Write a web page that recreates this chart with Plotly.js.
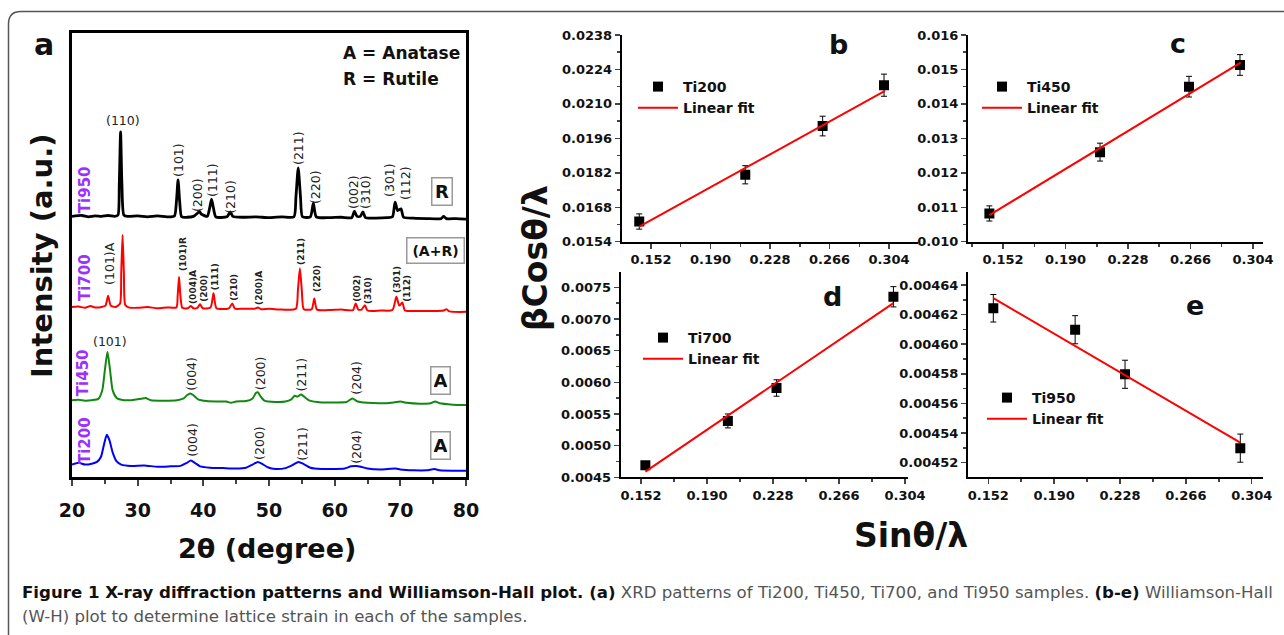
<!DOCTYPE html>
<html><head><meta charset="utf-8">
<script src="https://cdn.plot.ly/plotly-3.0.1.min.js"></script>
<style>html,body{margin:0;padding:0;background:#fff}#chart{width:1284px;height:635px}</style>
</head><body><div id="chart"></div>
<script>
// ---------- Panel (a): XRD patterns (2θ in degrees, intensity in a.u., stacked offsets as drawn) ----------
const ti950_tt = [20,21.5,22.5,23.5,24.5,25.5,26.5,27.0,27.2,27.4,27.6,27.9,28.5,30,31.5,33,34.5,35.6,35.9,36.15,36.4,36.7,37.5,38.5,39.1,39.4,39.7,40.6,40.95,41.25,41.55,41.9,43.6,44.1,44.5,46,48,50,52,53.8,54.1,54.45,54.8,55.1,56.3,56.75,57.2,59,61,62.6,63.0,63.4,63.9,64.3,64.7,66,68,68.8,69.2,69.6,70.1,70.5,72,74,76.2,76.6,77,78.5,80];
const ti950_int = [58.7,58.9,58.6,58.8,58.7,58.9,58.7,59.0,66,77.7,66,59.0,58.7,58.8,58.6,58.8,58.6,58.8,62,66.9,62,58.6,58.5,58.7,59.4,59.8,59.2,58.7,60.5,62.6,60.5,58.6,58.6,59.7,58.7,58.5,58.6,58.4,58.6,58.6,63,69.6,63,58.6,58.6,61.7,58.6,58.4,58.5,58.4,59.9,58.7,58.7,59.7,58.4,58.3,58.4,58.6,61.9,60.0,60.4,58.5,58.3,58.2,58.2,58.7,58.2,58.2,58.1];

const ti700_tt = [20,21,22,22.8,23.5,24.5,25.1,25.5,25.9,26.6,27.3,27.5,27.7,27.9,28.1,28.6,30,31.5,33,34.5,35.9,36.1,36.3,36.5,36.8,37.6,38.1,38.5,39.1,39.5,39.9,41.1,41.55,42.0,43.9,44.4,44.8,46,47.8,48.3,48.8,50,52,54.1,54.4,54.7,55.0,55.3,56.5,56.9,57.3,59,61,62.8,63.2,63.6,64.1,64.6,65.0,67,68.8,69.4,69.85,70.3,70.7,72,74,75.5,76.6,77,77.5,80];
const ti700_int = [38.3,38.4,38.1,38.5,38.2,38.3,38.6,40.8,38.6,38.3,39,46,54.5,46,38.8,38.2,38.1,38.3,38.0,38.2,38.2,41,45.1,41,38.1,38.0,38.5,38.0,38.1,38.9,38.0,38.2,41.4,38.0,38.0,39.1,37.9,37.9,37.9,38.2,37.8,37.9,37.7,37.9,42,47.0,42,37.8,37.8,40.2,37.7,37.6,37.7,37.6,39.1,37.7,37.7,38.7,37.5,37.5,37.6,40.6,38.6,39.3,37.5,37.4,37.4,37.4,37.5,37.8,37.3,37.2];

const ti450_tt = [20,21,22,23,24,24.6,25.0,25.4,25.8,26.2,26.8,27.5,29,30.5,31.2,32,34,36,37.0,37.5,38.0,38.5,39.2,40.5,42,43.5,44.2,45,46.5,47.5,48.0,48.3,48.7,49.3,51,52.5,53.4,53.9,54.3,54.9,55.5,56.2,58,60,61.8,62.7,63.5,65,67,69,70,71,73,74.6,75.3,76,78,80];
const ti450_int = [17.3,17.4,17.2,17.3,17.6,19.5,24,28.2,24,19.5,17.8,17.4,17.3,17.6,17.8,17.3,17.2,17.3,17.7,18.4,18.8,18.4,17.5,17.1,17.0,17.0,16.7,17.0,17.1,17.7,18.9,19.1,18.2,17.2,16.9,17.0,17.5,18.3,18.1,18.6,17.9,17.2,16.8,16.8,16.9,17.7,17.0,16.7,16.6,16.8,17.0,16.7,16.5,16.6,17.0,16.6,16.3,16.2];

const ti200_tt = [20,21,22,23,23.8,24.4,24.9,25.3,25.7,26.2,26.8,27.5,29,31,33,35,36.5,37.5,38.1,38.7,39.5,41,43,45,46.5,47.5,48.3,48.9,49.8,51,52.5,53.6,54.5,55.3,56.3,58,60,61.5,62.5,63.3,64,65,67,69.3,70,72,74,75.2,76,78,80];
const ti200_int = [2.8,3.2,2.8,3.0,3.4,4.5,7.5,9.5,8.3,5.5,3.5,2.8,2.5,2.6,2.3,2.4,2.5,3.2,3.7,3.2,2.4,2.1,2.0,1.9,2.1,2.8,3.4,3.0,2.2,1.8,2.0,2.7,3.4,2.9,2.1,1.8,1.8,1.9,2.4,2.5,2.3,1.9,1.7,1.9,1.7,1.5,1.5,1.8,1.5,1.4,1.4];

// ---------- Panels (b)-(e): Williamson-Hall data ----------
const wh_ti200_x = [0.1445, 0.2122, 0.2616, 0.3008];
const wh_ti200_y = [0.01622, 0.01812, 0.02010, 0.02176];
const wh_ti200_err = [0.00031, 0.00037, 0.00040, 0.00045];
const fit_ti200_x = [0.1445, 0.3014];
const fit_ti200_y = [0.01601, 0.02153];

const wh_ti450_x = [0.1437, 0.2110, 0.2651, 0.2961];
const wh_ti450_y = [0.01082, 0.01260, 0.01450, 0.01513];
const wh_ti450_err = [0.00022, 0.00026, 0.00030, 0.00030];
const fit_ti450_x = [0.1437, 0.2965];
const fit_ti450_y = [0.01077, 0.01520];

const wh_ti700_x = [0.1545, 0.2020, 0.2300, 0.2973];
const wh_ti700_y = [0.00469, 0.00539, 0.00591, 0.00735];
const wh_ti700_err = [0.00005, 0.00011, 0.00013, 0.00016];
const fit_ti700_x = [0.1545, 0.2973];
const fit_ti700_y = [0.00459, 0.00725];

const wh_ti950_x = [0.1549, 0.2021, 0.2309, 0.2974];
const wh_ti950_y = [0.0046243, 0.0046098, 0.0045797, 0.0045298];
const wh_ti950_err = [0.0000093, 0.0000095, 0.0000095, 0.0000095];
const fit_ti950_x = [0.1549, 0.2974];
const fit_ti950_y = [0.0046311, 0.0045336];

// ---------- layout helpers ----------
const W = 1284, H = 635;
const px = v => v / W;
const py = v => 1 - v / H;
const F = '"DejaVu Sans", Verdana, sans-serif';
const PURPLE = '#9b30ff';

const xrd = (x, y, color, w) => ({x, y, type:'scatter', mode:'lines', xaxis:'x', yaxis:'y',
  line:{color, width:w, shape:'spline', smoothing:0.6}, showlegend:false, hoverinfo:'skip'});

const whPts = (x, y, err, name, ax, ay, leg) => ({x, y, type:'scatter', mode:'markers', name,
  xaxis:ax, yaxis:ay, legend:leg,
  marker:{symbol:'square', size:10, color:'#000'},
  error_y:{type:'data', array:err, visible:true, color:'#000', thickness:1, width:3}});
const whFit = (x, y, ax, ay, leg) => ({x, y, type:'scatter', mode:'lines', name:'Linear fit',
  xaxis:ax, yaxis:ay, legend:leg, line:{color:'#ff0000', width:2}});

const data = [
  xrd(ti200_tt, ti200_int, '#0000ff', 2),
  xrd(ti450_tt, ti450_int, '#118811', 2),
  xrd(ti700_tt, ti700_int, '#ff0000', 2),
  xrd(ti950_tt, ti950_int, '#000000', 2.8),
  whPts(wh_ti200_x, wh_ti200_y, wh_ti200_err, 'Ti200', 'x2', 'y2', 'legend'),
  whFit(fit_ti200_x, fit_ti200_y, 'x2', 'y2', 'legend'),
  whPts(wh_ti450_x, wh_ti450_y, wh_ti450_err, 'Ti450', 'x3', 'y3', 'legend2'),
  whFit(fit_ti450_x, fit_ti450_y, 'x3', 'y3', 'legend2'),
  whPts(wh_ti700_x, wh_ti700_y, wh_ti700_err, 'Ti700', 'x4', 'y4', 'legend3'),
  whFit(fit_ti700_x, fit_ti700_y, 'x4', 'y4', 'legend3'),
  whPts(wh_ti950_x, wh_ti950_y, wh_ti950_err, 'Ti950', 'x5', 'y5', 'legend4'),
  whFit(fit_ti950_x, fit_ti950_y, 'x5', 'y5', 'legend4')
];

const tickF = {family:F, size:13, color:'#111', weight:'bold'};
function whX(dom, range, anchor){
  return {domain:dom, range, anchor, tick0:0.152, dtick:0.038, tickformat:'.3f',
    showline:true, linewidth:2, linecolor:'#000', ticks:'outside', ticklen:5, tickwidth:1.5,
    showgrid:false, zeroline:false, tickfont:tickF,
    minor:{tick0:0.152, dtick:0.019, ticks:'outside', ticklen:3, tickwidth:1.5, showgrid:false}};
}
function whY(dom, range, anchor, t0, dt, fmt){
  return {domain:dom, range, anchor, tick0:t0, dtick:dt, tickformat:fmt,
    showline:true, linewidth:2, linecolor:'#000', ticks:'outside', ticklen:5, tickwidth:1.5,
    showgrid:false, zeroline:false, tickfont:tickF,
    minor:{tick0:t0, dtick:dt/2, ticks:'outside', ticklen:3, tickwidth:1.5, showgrid:false}};
}

const domTop = [py(241.7), py(35)];
const domBot = [py(477.3), py(271.7)];

function legendAt(x, y){
  return {x:px(x), y:py(y), xanchor:'left', yanchor:'top', bgcolor:'rgba(0,0,0,0)',
    borderwidth:0, font:{family:F, size:14, color:'#111', weight:'bold'}, tracegroupgap:0, itemwidth:40};
}

// text labels in panel (a): [text, 2θ, a.u., rotated?]
const labels950 = [['(110)',27.72,80.4,false],['(101)',36.29,71.4,true],['(200)',39.03,63.5,true],['(111)',41.47,66.9,true],
  ['(210)',44.21,63.1,true],['(211)',54.41,74.1,true],['(220)',57.0,65.3,true],['(002)',62.94,64.2,true],
  ['(310)',64.77,64.2,true],['(301)',68.42,66.9,true],['(112)',70.71,66.2,true]];
const labels700 = [['(101)R',36.9,50.2],['(004)A',38.43,42.8],['(200)',40.1,42.6],['(111)',41.78,45.0],
  ['(210)',44.67,42.6],['(200)A',48.48,42.6],['(211)',54.87,50.9],['(220)',57.31,44.6],['(002)',63.4,42.6],
  ['(310)',65.07,42.1],['(301)',69.49,44.6],['(112)',71.01,42.6]];
const labels450 = [['(101)',25.79,30.5,false],['(004)',38.23,23.2,true],['(200)',48.64,23.4,true],['(211)',54.98,23.0,true],['(204)',63.35,22.3,true]];
const labels200 = [['(004)',38.23,8.3,true],['(200)',48.64,7.7,true],['(211)',54.98,7.4,true],['(204)',63.4,6.8,true]];

const ann = [];
const lab = (t, x, y, rot, size, bold) => ann.push({text: bold ? '<b>'+t+'</b>' : t, x, y, xref:'x', yref:'y',
  showarrow:false, textangle: rot ? -90 : 0, font:{family:F, size, color:'#222'}, xanchor:'center', yanchor:'middle'});
labels950.forEach(l => lab(l[0], l[1], l[2], l[3], 12.5, false));
lab('(101)A', 25.79, 48.0, true, 12.5, false);
labels700.forEach(l => lab(l[0], l[1], l[2], true, 9, true));
labels450.forEach(l => lab(l[0], l[1], l[2], l[3], 12.5, false));
labels200.forEach(l => lab(l[0], l[1], l[2], l[3], 12.5, false));

const boxLab = (t, x, y, w, h, size) => ann.push({text:'<b>'+t+'</b>', x, y, xref:'x', yref:'y', showarrow:false,
  font:{family:F, size, color:'#111'}, bordercolor:'#999', borderwidth:1.5, borderpad:2, bgcolor:'#fff',
  width:w, height:h, xanchor:'center', yanchor:'middle'});
boxLab('R', 76.3, 64.2, 15, 22, 18);
boxLab('(A+R)', 75.43, 51.1, 52, 20, 14);
boxLab('A', 76.19, 21.8, 14, 22, 18);
boxLab('A', 76.19, 7.0, 14, 22, 18);

const sampleLab = (t, x, y) => ann.push({text:'<b>'+t+'</b>', x, y, xref:'x', yref:'y', showarrow:false,
  textangle:-90, font:{family:F, size:15, color:PURPLE}, xanchor:'center', yanchor:'middle'});
sampleLab('Ti950', 21.98, 64.6);
sampleLab('Ti700', 21.98, 44.8);
sampleLab('Ti450', 21.68, 23.4);
sampleLab('Ti200', 21.98, 8.1);

const pText = (t, x, y, size, opts={}) => ann.push(Object.assign({text:t, x:px(x), y:py(y), xref:'paper', yref:'paper',
  showarrow:false, font:{family:F, size, color:'#111'}, xanchor:'center', yanchor:'middle'}, opts));
pText('<b>A = Anatase</b>', 341, 53, 17, {xanchor:'left'});
pText('<b>R = Rutile</b>', 341, 79, 17, {xanchor:'left'});
pText('<b>a</b>', 44, 45, 30);
pText('<b>b</b>', 838, 45, 27);
pText('<b>c</b>', 1178, 43, 27);
pText('<b>d</b>', 832, 297, 27);
pText('<b>e</b>', 1195, 305, 27);
pText('<b>Intensity (a.u.)</b>', 42, 256, 29, {textangle:-90});
pText('<b>2θ (degree)</b>', 267, 548, 27);
pText('<b>βCosθ/λ</b>', 535, 258, 33, {textangle:-90});
pText('<b>Sinθ/λ</b>', 911, 535, 33);

const capFont = {family:'"DejaVu Sans", Verdana, sans-serif', size:16.6, color:'#555'};
pText('<span style="color:#111"><b>Figure 1 X-ray diffraction patterns and Williamson-Hall plot. (a)</b></span> XRD patterns of Ti200, Ti450, Ti700, and Ti950 samples. <span style="color:#111"><b>(b-e)</b></span> Williamson-Hall',
  20, 592, 16.6, {xanchor:'left', font:capFont});
pText('(W-H) plot to determine lattice strain in each of the samples.', 20, 616, 16.6, {xanchor:'left', font:capFont});

const layout = {
  width:W, height:H, margin:{l:0, r:0, t:0, b:0}, paper_bgcolor:'#fff', plot_bgcolor:'rgba(0,0,0,0)',
  font:{family:F},
  xaxis:{domain:[px(72), px(466)], range:[20,80], anchor:'y', dtick:10, tick0:20, showline:true, mirror:true,
    linewidth:3, linecolor:'#000', ticks:'outside', ticklen:6, tickwidth:2, showgrid:false, zeroline:false,
    ticklabelstandoff:8, tickfont:{family:F, size:19, color:'#111', weight:'bold'},
    minor:{dtick:5, tick0:20, ticks:'outside', ticklen:4, tickwidth:2, showgrid:false}},
  yaxis:{domain:[py(477), py(33)], range:[0,100], anchor:'x', showline:true, mirror:true, linewidth:3,
    linecolor:'#000', ticks:'', showticklabels:false, showgrid:false, zeroline:false},
  xaxis2: whX([px(621.7), px(918)], [0.1333, 0.3225], 'y2'),
  yaxis2: whY(domTop, [0.0154, 0.0238], 'x2', 0.0154, 0.0014, '.4f'),
  xaxis3: whX([px(968), px(1263)], [0.1307, 0.3101], 'y3'),
  yaxis3: whY(domTop, [0.010, 0.016], 'x3', 0.010, 0.001, '.3f'),
  xaxis4: whX([px(620.7), px(908)], [0.1403, 0.3057], 'y4'),
  yaxis4: whY(domBot, [0.0045, 0.007746], 'x4', 0.0045, 0.0005, '.4f'),
  xaxis5: whX([px(968), px(1263)], [0.14029, 0.3105], 'y5'),
  yaxis5: whY(domBot, [0.0045101, 0.004649], 'x5', 0.00452, 0.00002, '.5f'),
  legend: legendAt(633, 71),
  legend2: legendAt(977, 71),
  legend3: legendAt(638, 322),
  legend4: legendAt(982, 382),
  annotations: ann,
  shapes:[{type:'path', xref:'paper', yref:'paper',
    path:`M ${px(8.5)},${py(640)} L ${px(8.5)},${py(24)} Q ${px(8.5)},${py(11.5)} ${px(21)},${py(11.5)} L ${px(1290)},${py(11.5)}`,
    line:{color:'#555', width:1.5}}]
};

Plotly.newPlot('chart', data, layout, {displayModeBar:false, staticPlot:true});
</script></body></html>
